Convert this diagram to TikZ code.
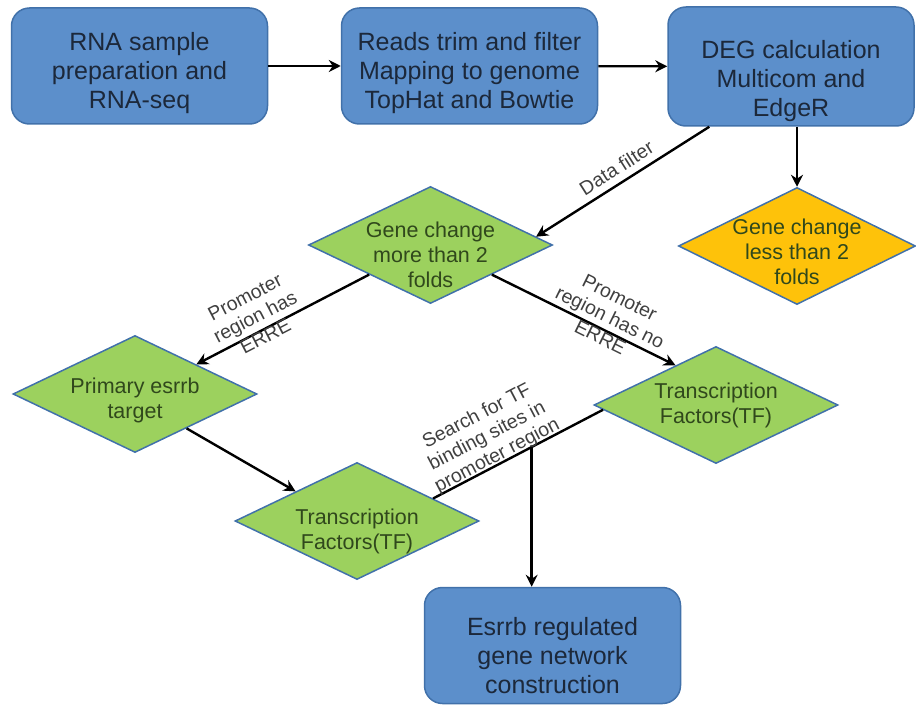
\documentclass[tikz,border=0pt]{standalone}
\usepackage{fontspec}
\setmainfont{Liberation Sans}
\usetikzlibrary{shapes.geometric, arrows.meta, calc}
\definecolor{boxblue}{RGB}{92,143,203}
\definecolor{edgeblue}{RGB}{65,113,170}
\definecolor{leafgreen}{RGB}{156,209,94}
\definecolor{ambery}{RGB}{254,194,10}
\definecolor{navytext}{RGB}{28,40,58}
\definecolor{olivetext}{RGB}{48,72,28}

\begin{document}
\begin{tikzpicture}[x=1pt, y=-1pt,
  stage/.style={rectangle, draw=edgeblue, line width=1.5pt, fill=boxblue, rounded corners=18pt, minimum width=256pt, minimum height=116pt},
  boxtxt/.style={align=center, text=navytext, font=\fontsize{25}{29}\selectfont, yshift=-7pt},
  check/.style={diamond, draw=edgeblue, line width=1.5pt, fill=leafgreen, inner sep=0pt, minimum width=244pt, minimum height=117pt},
  inside/.style={align=center, text=olivetext, font=\fontsize{21.5}{25}\selectfont, yshift=-6pt},
  note/.style={align=center, text=black!75, font=\fontsize{19.5}{22}\selectfont, sloped},
  flow/.style={-{Stealth[length=12pt, width=12pt, inset=4pt]}, line width=2.4pt}
]
  \useasboundingbox (0,0) rectangle (916,706);

  % pipeline boxes
  \node[stage, label={[boxtxt, name=rnatxt]center:RNA sample\\preparation and\\RNA-seq}] (rna) at (139.5,66) {};
  \node[stage, label={[boxtxt, name=readstxt]center:Reads trim and filter\\Mapping to genome\\TopHat and Bowtie}] (reads) at (469.5,66) {};
  \node[stage, minimum width=246pt, minimum height=119pt, label={[boxtxt, yshift=-8pt, name=degtxt]center:DEG calculation\\Multicom and\\EdgeR}] (deg) at (791,66.5) {};
  \node[stage, label={[boxtxt, yshift=-3pt, name=nettxt]center:Esrrb regulated\\gene network\\construction}] (net) at (552.5,645.5) {};

  % decisions
  \node[check, label={[inside, yshift=-4pt, name=moretxt]center:Gene change\\more than 2\\folds}] (more) at (430.5,245) {};
  \node[check, fill=ambery, minimum width=237pt, label={[inside, name=lesstxt]center:Gene change\\less than 2\\folds}] (less) at (797,246) {};
  \node[check, label={[inside, name=primtxt]center:Primary esrrb\\target}] (prim) at (135,394) {};
  \node[check, label={[inside, yshift=-4pt, name=tfLtxt]center:Transcription\\Factors(TF)}] (tfL) at (357,521) {};
  \node[check, label={[inside, yshift=6pt, name=tfRtxt]center:Transcription\\Factors(TF)}] (tfR) at (716,405) {};

  % connectors
  \draw[flow] (rna) -- (reads);
  \draw[flow] (reads) -- (deg);
  \draw[flow] (less.north |- deg.south) -- (less.north);
  \draw[flow] ($(deg.south west)!0.17!(deg.south east)$) -- node[note, pos=0.49, yshift=15pt] (filterlbl) {Data filter} ($(more.north)!0.86!(more.east)$);
  \draw[flow] (more.south west) -- node[note, pos=0.62, yshift=15pt] (errelbl) {Promoter\\region has\\ERRE} (prim.north east);
  \draw[flow] (more.south east) -- node[note, pos=0.61, yshift=14pt] (noerrelbl) {Promoter\\region has no\\ERRE} ($(tfR.west)!0.67!(tfR.north)$);
  \draw[flow] ($(prim.east)!0.58!(prim.south)$) -- (tfL.north west);

  \coordinate (tfLjoin) at ($(tfL.north)!0.62!(tfL.east)$);
  \coordinate (tfRjoin) at ($(tfR.west)!0.08!(tfR.south)$);
  \draw[line width=2.4pt] (tfLjoin) -- node[note, pos=0.40, yshift=30pt] (searchlbl) {Search for TF\\binding sites in\\promoter region} coordinate[pos=0.58] (split) (tfRjoin);
  \draw[flow] (split) -- (split |- net.north);
\end{tikzpicture}
\end{document}
